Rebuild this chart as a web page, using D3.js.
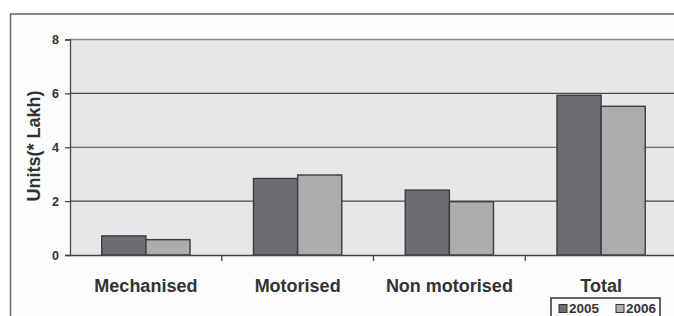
<!DOCTYPE html>
<html>
<head>
<meta charset="utf-8">
<script src="https://cdn.jsdelivr.net/npm/d3@7"></script>
<style>
    body { margin: 0; background: #fff; }
    svg { display: block; font-family: "Liberation Sans", Arial, sans-serif; }
</style>
</head>
<body>
<div class="chart"></div>
<script>
// Data
const categories = ["Mechanised", "Motorised", "Non motorised", "Total"];
const years = ["2005", "2006"];
const values2005 = [0.71, 2.84, 2.41, 5.93];
const values2006 = [0.57, 2.97, 1.98, 5.52];
const yTicks = [0, 2, 4, 6, 8];

const width = 674, height = 316;
const plot = { left: 70, top: 39.5, bottom: 255, right: 677 };
const colors = { "2005": "#6d6e71", "2006": "#abacae" };

const svg = d3.select(".chart")
    .append("svg")
    .attr("width", width)
    .attr("height", height);

// outer frame (runs off the right and bottom edges)
svg.append("rect")
    .attr("x", 10.5)
    .attr("y", 14)
    .attr("width", 700)
    .attr("height", 340)
    .attr("fill", "#fcfcfc")
    .attr("stroke", "#666")
    .attr("stroke-width", 1.5);

// scales
const xScale = d3.scaleBand()
    .domain(categories)
    .range([plot.left, plot.right]);
const xInner = d3.scaleBand()
    .domain(years)
    .range([0, xScale.bandwidth()])
    .paddingOuter(0.72);
const yScale = d3.scaleLinear()
    .domain([0, 8])
    .range([plot.bottom, plot.top]);

// plot area
svg.append("rect")
    .attr("x", plot.left)
    .attr("y", plot.top)
    .attr("width", plot.right - plot.left)
    .attr("height", plot.bottom - plot.top)
    .attr("fill", "#e7e7e9");

// gridlines
svg.append("g")
    .selectAll("line")
    .data(yTicks.filter(d => d > 0))
    .enter()
    .append("line")
    .attr("x1", plot.left)
    .attr("x2", plot.right)
    .attr("y1", d => yScale(d))
    .attr("y2", d => yScale(d))
    .attr("stroke", d => d === 8 ? "#8a8a8a" : "#4a4a4a")
    .attr("stroke-width", d => d === 8 ? 1.5 : 1.2);

// y-axis
const yAxis = d3.axisLeft(yScale)
    .tickValues(yTicks)
    .tickSize(5)
    .tickPadding(6);
const yG = svg.append("g")
    .attr("transform", `translate(${ plot.left }, 0)`)
    .call(yAxis);
yG.select(".domain").attr("stroke", "#444").attr("stroke-width", 1.3);
yG.selectAll(".tick line").attr("stroke", "#444").attr("stroke-width", 1.3);
yG.selectAll(".tick text")
    .attr("fill", "#333")
    .style("font-size", "12.5px")
    .style("font-weight", "bold");

// bars
const rows = categories.map((c, i) => ({ cat: c, vals: [values2005[i], values2006[i]] }));
const groups = svg.append("g")
    .selectAll("g")
    .data(rows)
    .enter()
    .append("g")
    .attr("transform", d => `translate(${ xScale(d.cat) }, 0)`);
groups.selectAll("rect")
    .data(d => d.vals.map((v, j) => ({ year: years[j], v })))
    .enter()
    .append("rect")
    .attr("x", d => xInner(d.year))
    .attr("width", xInner.bandwidth())
    .attr("y", d => yScale(d.v))
    .attr("height", d => plot.bottom - yScale(d.v))
    .attr("fill", d => colors[d.year])
    .attr("stroke", "#3c3c3c")
    .attr("stroke-width", 1.4);

// x-axis
const xAxis = d3.axisBottom(xScale)
    .tickSize(0)
    .tickPadding(24);
const xG = svg.append("g")
    .attr("transform", `translate(0, ${ plot.bottom })`)
    .call(xAxis);
xG.select(".domain").attr("stroke", "#444").attr("stroke-width", 1.5);
xG.selectAll(".tick text")
    .attr("fill", "#333")
    .style("font-size", "18px")
    .style("font-weight", "bold");
xG.selectAll(".sep")
    .data(categories.slice(1))
    .enter()
    .append("line")
    .attr("x1", d => xScale(d))
    .attr("x2", d => xScale(d))
    .attr("y1", 0)
    .attr("y2", 6)
    .attr("stroke", "#444")
    .attr("stroke-width", 1.3);

// y label
svg.append("text")
    .attr("transform", `translate(40, 146) rotate(-90)`)
    .attr("text-anchor", "middle")
    .attr("fill", "#333")
    .style("font-size", "18px")
    .style("font-weight", "bold")
    .text("Units(* Lakh)");

// legend
const legend = svg.append("g").attr("transform", "translate(551, 298)");
legend.append("rect")
    .attr("width", 109)
    .attr("height", 30)
    .attr("fill", "#fcfcfc")
    .attr("stroke", "#333")
    .attr("stroke-width", 1.5);
const items = legend.selectAll(".item")
    .data(years)
    .enter()
    .append("g")
    .attr("transform", (d, i) => `translate(${ 8 + i * 57 }, 0)`);
items.append("rect")
    .attr("x", 0)
    .attr("y", 6.5)
    .attr("width", 8)
    .attr("height", 8)
    .attr("fill", d => colors[d])
    .attr("stroke", "#333")
    .attr("stroke-width", 1);
items.append("text")
    .attr("x", 10)
    .attr("y", 14.5)
    .attr("fill", "#333")
    .style("font-size", "13.5px")
    .style("font-weight", "bold")
    .text(d => d);
</script>
</body>
</html>
